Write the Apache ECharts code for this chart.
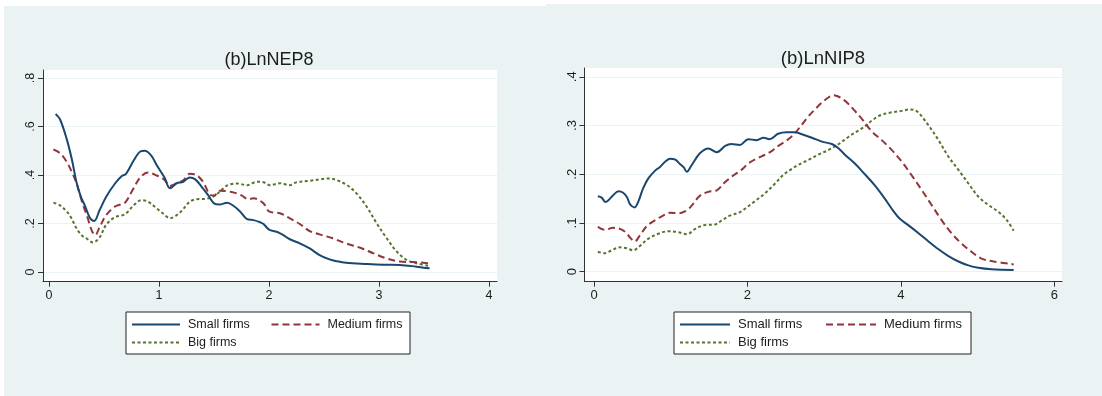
<!DOCTYPE html>
<html>
<head>
<meta charset="utf-8">
<script src="https://cdn.jsdelivr.net/npm/echarts@6/dist/echarts.min.js"></script>
<style>
  html, body { margin: 0; padding: 0; background: #ffffff; }
  #wrap { position: relative; width: 1102px; height: 396px; overflow: hidden; }
  .panel { position: absolute; background: #eaf2f3; }
  #chart { position: absolute; left: 0; top: 0; width: 1102px; height: 396px; }
</style>
</head>
<body>
<div id="wrap">
  <div class="panel" style="left:4px;top:6px;width:542px;height:390px"></div>
  <div class="panel" style="left:546px;top:4px;width:556px;height:392px"></div>
  <div id="chart"></div>
</div>
<script>
// Kernel density estimates by firm size, [x, density] pairs.
const nepSmall = [[0.06,0.652],[0.1,0.63],[0.16,0.55],[0.21,0.46],[0.25,0.37],[0.29,0.31],[0.33,0.27],[0.37,0.225],[0.41,0.21],[0.46,0.255],[0.52,0.31],[0.6,0.365],[0.66,0.395],[0.7,0.405],[0.77,0.46],[0.83,0.497],[0.87,0.5],[0.93,0.48],[0.98,0.44],[1.05,0.39],[1.1,0.345],[1.16,0.366],[1.22,0.372],[1.28,0.39],[1.33,0.382],[1.39,0.35],[1.45,0.315],[1.5,0.283],[1.55,0.278],[1.62,0.286],[1.68,0.272],[1.74,0.248],[1.8,0.218],[1.86,0.214],[1.92,0.205],[1.95,0.198],[2.0,0.175],[2.07,0.166],[2.13,0.152],[2.19,0.135],[2.28,0.118],[2.37,0.097],[2.46,0.07],[2.55,0.052],[2.62,0.044],[2.7,0.038],[2.89,0.033],[3.04,0.03],[3.19,0.029],[3.34,0.022],[3.46,0.015]];
const nepMedium = [[0.04,0.505],[0.1,0.49],[0.16,0.455],[0.2,0.42],[0.25,0.366],[0.3,0.29],[0.35,0.225],[0.39,0.17],[0.42,0.152],[0.46,0.185],[0.52,0.235],[0.6,0.27],[0.69,0.286],[0.75,0.33],[0.83,0.39],[0.9,0.41],[0.98,0.398],[1.05,0.38],[1.1,0.355],[1.16,0.366],[1.22,0.378],[1.28,0.405],[1.33,0.402],[1.4,0.372],[1.46,0.32],[1.5,0.315],[1.55,0.335],[1.66,0.33],[1.75,0.316],[1.81,0.3],[1.86,0.304],[1.95,0.283],[2.0,0.25],[2.1,0.242],[2.19,0.221],[2.28,0.198],[2.37,0.169],[2.46,0.155],[2.58,0.139],[2.7,0.118],[2.83,0.1],[2.95,0.077],[3.07,0.056],[3.19,0.043],[3.31,0.041],[3.46,0.036]];
const nepBig = [[0.04,0.286],[0.1,0.275],[0.16,0.25],[0.2,0.225],[0.25,0.18],[0.3,0.15],[0.34,0.139],[0.4,0.122],[0.46,0.143],[0.52,0.195],[0.6,0.226],[0.69,0.238],[0.77,0.275],[0.84,0.296],[0.9,0.29],[0.98,0.262],[1.04,0.24],[1.1,0.222],[1.19,0.245],[1.28,0.29],[1.34,0.3],[1.43,0.302],[1.49,0.31],[1.55,0.33],[1.62,0.357],[1.71,0.365],[1.8,0.358],[1.89,0.372],[1.95,0.37],[2.01,0.358],[2.1,0.366],[2.19,0.358],[2.25,0.37],[2.37,0.376],[2.46,0.382],[2.55,0.386],[2.62,0.378],[2.71,0.358],[2.8,0.322],[2.89,0.268],[2.98,0.2],[3.07,0.139],[3.16,0.085],[3.25,0.05],[3.34,0.036],[3.46,0.025]];

const nipSmall = [[0.05,0.155],[0.1,0.152],[0.15,0.143],[0.19,0.147],[0.25,0.157],[0.32,0.165],[0.38,0.162],[0.43,0.153],[0.47,0.138],[0.53,0.132],[0.58,0.145],[0.64,0.171],[0.71,0.192],[0.8,0.208],[0.86,0.215],[0.93,0.226],[0.99,0.232],[1.06,0.23],[1.12,0.221],[1.17,0.214],[1.21,0.205],[1.27,0.218],[1.38,0.243],[1.49,0.253],[1.6,0.245],[1.71,0.258],[1.79,0.262],[1.9,0.26],[2.01,0.272],[2.12,0.27],[2.21,0.275],[2.29,0.272],[2.4,0.283],[2.51,0.286],[2.62,0.286],[2.71,0.282],[2.84,0.275],[2.97,0.267],[3.1,0.262],[3.19,0.253],[3.27,0.24],[3.4,0.222],[3.53,0.2],[3.66,0.177],[3.79,0.15],[3.9,0.125],[3.99,0.108],[4.1,0.095],[4.23,0.079],[4.36,0.062],[4.49,0.046],[4.62,0.032],[4.75,0.021],[4.88,0.013],[5.01,0.008],[5.18,0.005],[5.47,0.0035]];
const nipMedium = [[0.05,0.092],[0.14,0.086],[0.25,0.09],[0.34,0.088],[0.42,0.08],[0.47,0.07],[0.53,0.062],[0.6,0.075],[0.69,0.094],[0.8,0.106],[0.9,0.115],[0.99,0.121],[1.1,0.12],[1.21,0.126],[1.27,0.135],[1.38,0.156],[1.49,0.164],[1.6,0.167],[1.71,0.184],[1.82,0.198],[1.93,0.21],[2.01,0.222],[2.12,0.232],[2.23,0.24],[2.32,0.248],[2.4,0.258],[2.49,0.267],[2.6,0.281],[2.71,0.302],[2.79,0.318],[2.88,0.333],[2.97,0.347],[3.06,0.358],[3.12,0.362],[3.19,0.359],[3.29,0.348],[3.4,0.33],[3.51,0.31],[3.62,0.288],[3.75,0.27],[3.88,0.25],[4.01,0.226],[4.14,0.198],[4.27,0.168],[4.4,0.137],[4.53,0.106],[4.66,0.079],[4.79,0.058],[4.92,0.041],[5.05,0.027],[5.21,0.021],[5.47,0.015]];
const nipBig = [[0.05,0.041],[0.14,0.038],[0.23,0.044],[0.34,0.05],[0.43,0.048],[0.51,0.044],[0.6,0.053],[0.71,0.068],[0.84,0.078],[0.97,0.083],[1.1,0.081],[1.21,0.077],[1.32,0.088],[1.45,0.096],[1.58,0.097],[1.66,0.105],[1.77,0.115],[1.9,0.122],[1.99,0.132],[2.1,0.145],[2.23,0.161],[2.36,0.181],[2.47,0.199],[2.56,0.209],[2.66,0.219],[2.79,0.229],[2.92,0.24],[3.06,0.25],[3.19,0.262],[3.32,0.277],[3.45,0.29],[3.53,0.298],[3.62,0.31],[3.73,0.321],[3.88,0.327],[4.01,0.33],[4.12,0.333],[4.21,0.329],[4.29,0.315],[4.38,0.296],[4.49,0.27],[4.62,0.236],[4.75,0.209],[4.88,0.181],[5.01,0.154],[5.14,0.137],[5.27,0.123],[5.38,0.106],[5.47,0.084]];

// Tick values and labels
const nepXTicks = [0, 1, 2, 3, 4];
const nepYTicks = [0, 0.2, 0.4, 0.6, 0.8];
const nipXTicks = [0, 2, 4, 6];
const nipYTicks = [0, 0.1, 0.2, 0.3, 0.4];
const seriesNames = ['Small firms', 'Medium firms', 'Big firms'];
const panelTitles = ['(b)LnNEP8', '(b)LnNIP8'];

const FONT = '"Liberation Sans", Arial, Helvetica, sans-serif';
const TEXT = '#1c1c1c';
const AXIS = '#333333';
const GRID_LINE = '#eaf2f3';
const COLORS = ['#1a476f', '#90353b', '#55752f'];
const DASHES = ['solid', [7, 4], [3, 2.5]];

// Stata-style decimal labels: ".2" rather than "0.2"
const fmtDec = v => (Math.abs(v) < 1e-9 ? '0' : String(+v.toFixed(2)).replace(/^0\./, '.'));

function xAxisFor(gi, ticks, min, max, fs) {
  return {
    type: 'value', gridIndex: gi, min, max,
    axisLine: { show: true, onZero: false, lineStyle: { color: AXIS, width: 1 } },
    axisTick: { show: true, length: 5, customValues: ticks, lineStyle: { color: AXIS } },
    axisLabel: { customValues: ticks, color: TEXT, fontFamily: FONT, fontSize: fs, margin: 7,
                 formatter: v => String(v) },
    splitLine: { show: false }
  };
}
function yAxisFor(gi, ticks, min, max, fs) {
  return {
    type: 'value', gridIndex: gi, min, max,
    axisLine: { show: true, onZero: false, lineStyle: { color: AXIS, width: 1 } },
    axisTick: { show: true, length: 5, customValues: ticks, lineStyle: { color: AXIS } },
    axisLabel: { customValues: ticks, color: TEXT, fontFamily: FONT, fontSize: fs, margin: 6,
                 rotate: 90, formatter: fmtDec },
    splitLine: { show: true, lineStyle: { color: GRID_LINE, width: 1 } }
  };
}
function lineSeries(name, data, idx, k) {
  return {
    type: 'line', name, data, xAxisIndex: idx, yAxisIndex: idx,
    symbol: 'none', smooth: 0.35, silent: true,
    lineStyle: { color: COLORS[k], width: 2, type: DASHES[k] },
    itemStyle: { color: COLORS[k] }
  };
}
// Two-column legend box; fixed-width rich-text cells set the column spacing.
function legendFor(left, iconW, fs, cellW, width) {
  const cell = { width: cellW, padding: [0, 0, 0, 3], lineHeight: 14, fontSize: fs,
                 fontFamily: FONT, color: TEXT };
  return {
    data: seriesNames,
    left, top: 312, width,
    orient: 'horizontal', itemWidth: iconW, itemHeight: 14, itemGap: 5,
    padding: [6, 5, 5, 5],
    backgroundColor: '#ffffff', borderColor: '#222222', borderWidth: 1, borderRadius: 0,
    selectedMode: false,
    itemStyle: { opacity: 0, borderWidth: 0 },
    formatter: name => '{c|' + name + '}',
    textStyle: { color: TEXT, fontFamily: FONT, fontSize: fs, rich: { c: cell } }
  };
}

const chart = echarts.init(document.getElementById('chart'), null, { renderer: 'canvas' });
chart.setOption({
  animation: false,
  backgroundColor: 'transparent',
  title: [
    { text: panelTitles[0], left: 269, top: 51, textAlign: 'center', padding: 0,
      textStyle: { color: TEXT, fontFamily: FONT, fontSize: 18, fontWeight: 'normal' } },
    { text: panelTitles[1], left: 823, top: 49, textAlign: 'center', padding: 0,
      textStyle: { color: TEXT, fontFamily: FONT, fontSize: 18.5, fontWeight: 'normal' } }
  ],
  grid: [
    { left: 43, top: 70, width: 454, height: 211.7, show: true, backgroundColor: '#ffffff', borderWidth: 0, containLabel: false },
    { left: 584.5, top: 68, width: 477.5, height: 213.7, show: true, backgroundColor: '#ffffff', borderWidth: 0, containLabel: false }
  ],
  xAxis: [
    xAxisFor(0, nepXTicks, -0.0545, 4.0727, 12.5),
    xAxisFor(1, nipXTicks, -0.124, 6.10, 13)
  ],
  yAxis: [
    yAxisFor(0, nepYTicks, -0.04, 0.833, 12.5),
    yAxisFor(1, nipYTicks, -0.0205, 0.418, 13)
  ],
  legend: [
    legendFor(126, 48, 12.5, 77.5, 280),
    legendFor(674, 50, 13, 82, 292)
  ],
  series: [
    lineSeries(seriesNames[2], nepBig, 0, 2),
    lineSeries(seriesNames[1], nepMedium, 0, 1),
    lineSeries(seriesNames[0], nepSmall, 0, 0),
    lineSeries(seriesNames[2], nipBig, 1, 2),
    lineSeries(seriesNames[1], nipMedium, 1, 1),
    lineSeries(seriesNames[0], nipSmall, 1, 0)
  ]
});
</script>
</body>
</html>
